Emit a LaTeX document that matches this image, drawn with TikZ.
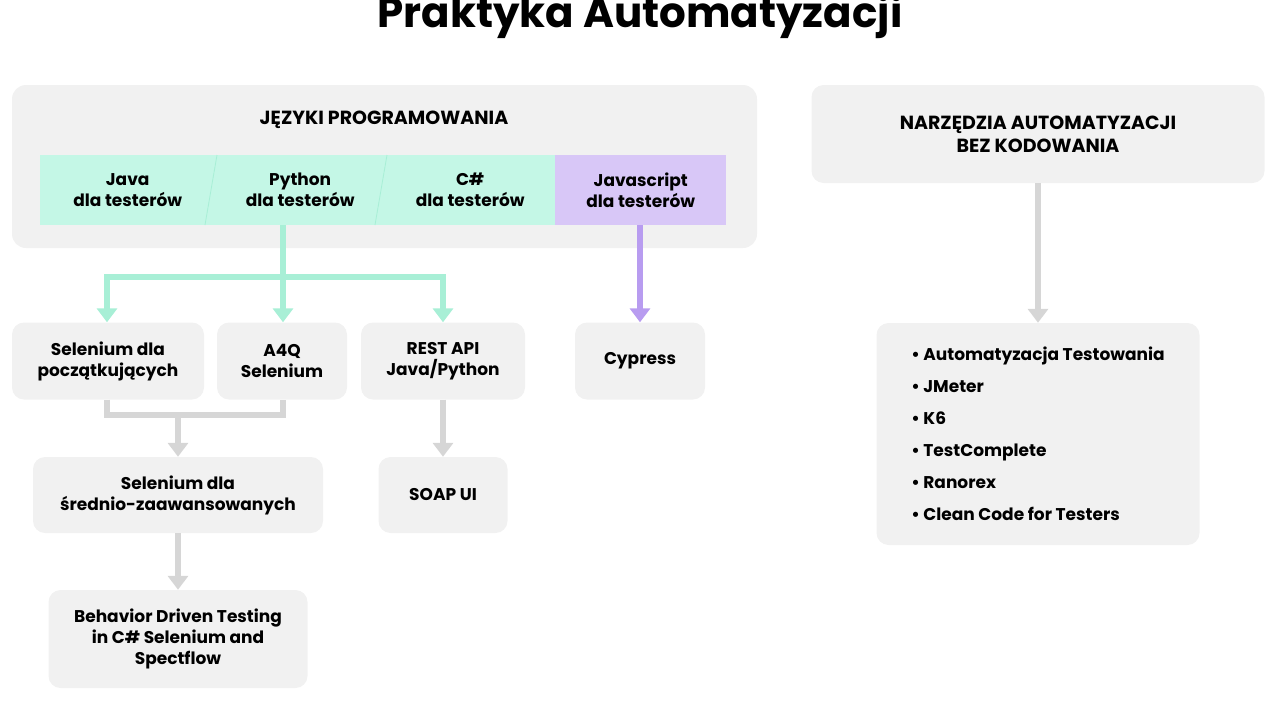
\documentclass[tikz,border=0pt]{standalone}
\usepackage{fontspec}
\setmainfont{Poppins}
\usetikzlibrary{arrows.meta}
\definecolor{boxgray}{HTML}{F1F1F1}
\definecolor{mint}{HTML}{C4F7E6}
\definecolor{mintline}{HTML}{A8EFD6}
\definecolor{lilac}{HTML}{D8C7F7}
\definecolor{lilacline}{HTML}{B89CF0}
\definecolor{arrgray}{HTML}{D6D6D6}
\tikzset{
  panel/.style={fill=boxgray, rounded corners=12pt, draw=none},
  course/.style={panel, align=center, font=\bfseries\fontsize{17}{21}\selectfont, inner sep=0pt},
  tab/.style={anchor=north west, minimum height=70pt, inner sep=0pt, align=center,
    font=\bfseries\fontsize{17}{21}\selectfont},
  link/.style={line width=6pt, -{Triangle[length=14pt,width=20pt]}},
  plain/.style={line width=6pt}
}
\begin{document}
\begin{tikzpicture}[x=1pt,y=-1pt]
  \useasboundingbox (0,0) rectangle (1280,720);
  \node (title) at (640,16) {\bfseries\fontsize{42}{46}\selectfont Praktyka Automatyzacji};

  % jezyki programowania
  \fill[boxgray, rounded corners=14pt] (12,85) rectangle (757,248);
  \node (langs) at (384,120) {\bfseries\fontsize{19}{23}\selectfont JĘZYKI PROGRAMOWANIA};
  \node[tab, fill=mint, minimum width=175pt] (java) at (40,155) {Java\\dla testerów};
  \node[tab, fill=mint, minimum width=170pt] (python) at (215,155) {Python\\dla testerów};
  \node[tab, fill=mint, minimum width=170pt] (csharp) at (385,155) {C\#\\dla testerów};
  \node[tab, fill=lilac, minimum width=171pt] (js) at (555,155) {Javascript\\dla testerów};
  \draw[mintline, line width=0.8pt] (217,155) -- (205,225) (387,155) -- (375,225);

  % narzedzia bez kodowania
  \node[course, minimum width=453pt, minimum height=98pt, font=\bfseries\fontsize{19}{23}\selectfont] (nocode) at (1038,134) {NARZĘDZIA AUTOMATYZACJI\\BEZ KODOWANIA};
  \node[course, minimum width=323pt, minimum height=222pt, align=left, font=\bfseries\fontsize{17}{32}\selectfont] (tools) at (1038,434)
    {• Automatyzacja Testowania\\• JMeter\\• K6\\• TestComplete\\• Ranorex\\• Clean Code for Testers};

  % kursy
  \node[course, minimum width=192pt, minimum height=77pt] (selbasic) at (108,361) {Selenium dla\\początkujących};
  \node[course, minimum width=130pt, minimum height=77pt] (a4q) at (282,361) {A4Q\\Selenium};
  \node[course, minimum width=164pt, minimum height=77pt] (rest) at (443,361) {REST API\\Java/Python};
  \node[course, minimum width=130pt, minimum height=77pt] (cypress) at (640,361) {Cypress};
  \node[course, minimum width=290pt, minimum height=76pt] (selmid) at (178,495) {Selenium dla\\średnio-zaawansowanych};
  \node[course, minimum width=129pt, minimum height=76pt] (soap) at (443,495) {SOAP UI};
  \node[course, minimum width=259pt, minimum height=98pt] (bdt) at (178,639) {Behavior Driven Testing\\in C\# Selenium and\\Spectflow};

  % strzalki
  \coordinate (split) at (283,277);
  \draw[plain, mintline] (python.south -| split) -- (split);
  \draw[link, mintline] (split) -| (selbasic.north -| 107,0);
  \draw[link, mintline] (split) -- (a4q.north -| split);
  \draw[link, mintline] (split) -| (rest.north);
  \draw[link, lilacline] (js.south -| 640,0) -- (cypress.north);
  \draw[link, arrgray] (nocode.south) -- (tools.north);
  \coordinate (join) at (178,415);
  \draw[plain, arrgray] (selbasic.south -| 107,0) |- (join -| 283,0) -- (a4q.south -| 283,0);
  \draw[link, arrgray] (join) -- (selmid.north);
  \draw[link, arrgray] (rest.south) -- (soap.north);
  \draw[link, arrgray] (selmid.south) -- (bdt.north);
\end{tikzpicture}
\end{document}
